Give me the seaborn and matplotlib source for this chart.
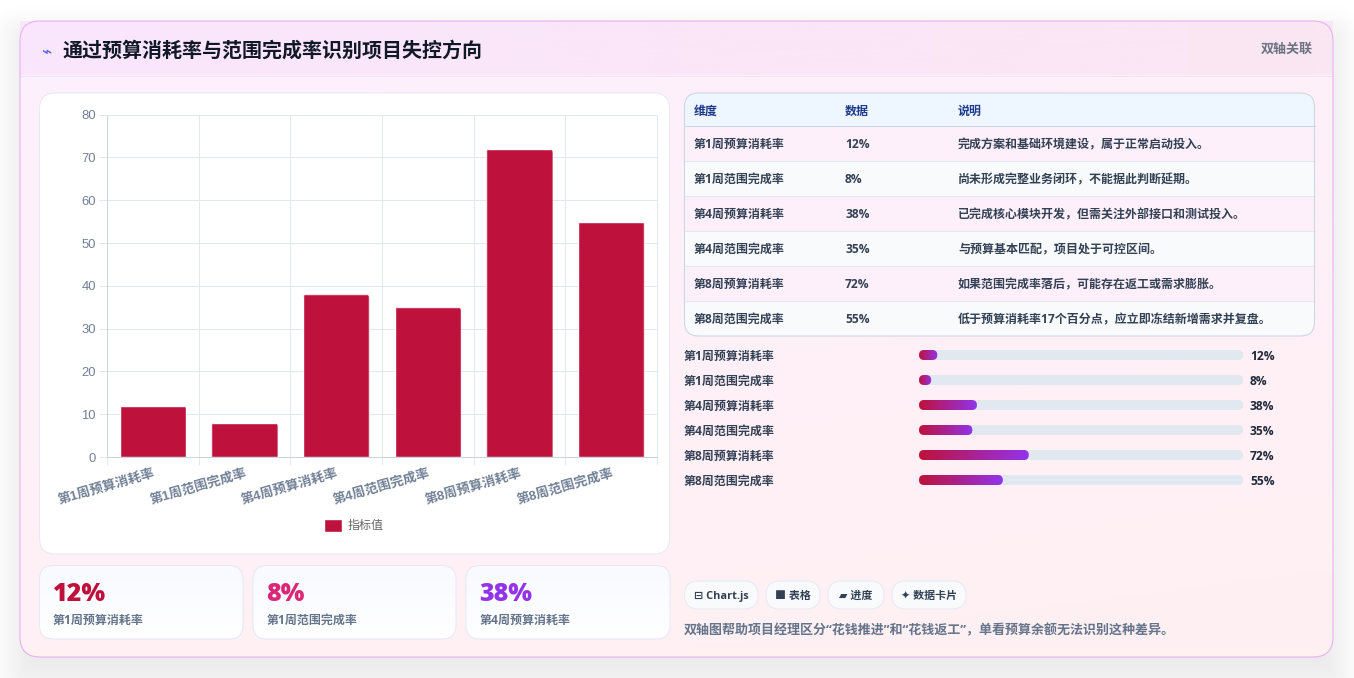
import numpy as np
import pandas as pd
import matplotlib
matplotlib.use("Agg")
import matplotlib.pyplot as plt
import seaborn as sns
from matplotlib.patches import FancyBboxPatch, Rectangle
from matplotlib.transforms import IdentityTransform
from matplotlib.colors import LinearSegmentedColormap, to_rgb

# ---------- data ----------
TITLE = "通过预算消耗率与范围完成率识别项目失控方向"
BADGE = "双轴关联"
LABELS = ["第1周预算消耗率", "第1周范围完成率", "第4周预算消耗率",
          "第4周范围完成率", "第8周预算消耗率", "第8周范围完成率"]
VALUES = [12, 8, 38, 35, 72, 55]
SERIES_NAME = "指标值"
TABLE_HEAD = ["维度", "数据", "说明"]
NOTES = ["完成方案和基础环境建设，属于正常启动投入。",
         "尚未形成完整业务闭环，不能据此判断延期。",
         "已完成核心模块开发，但需关注外部接口和测试投入。",
         "与预算基本匹配，项目处于可控区间。",
         "如果范围完成率落后，可能存在返工或需求膨胀。",
         "低于预算消耗率17个百分点，应立即冻结新增需求并复盘。"]
PILLS = ["⊟ Chart.js", "■ 表格", "▰ 进度", "✦ 数据卡片"]
FOOT = "双轴图帮助项目经理区分“花钱推进”和“花钱返工”，单看预算余额无法识别这种差异。"
CARD_COLORS = ["#be123c", "#db2777", "#9333ea"]

W, H = 1354, 678
CJK = ["Open Sans", "Noto Sans CJK SC", "DejaVu Sans"]
LAT = ["Liberation Sans", "Noto Sans CJK SC"]
sns.set_theme(style="white")
plt.rcParams["font.family"] = CJK
pt = lambda px: px * 0.72

fig = plt.figure(figsize=(W / 100, H / 100), dpi=100, facecolor="white")
bg = fig.add_axes([0, 0, 1, 1], zorder=0)
bg.set_xlim(0, W); bg.set_ylim(H, 0); bg.axis("off")


def px_axes(x0, y0, x1, y1, z=2):
    a = fig.add_axes([x0 / W, 1 - y1 / H, (x1 - x0) / W, (y1 - y0) / H], zorder=z)
    a.patch.set_alpha(0)
    return a


def rbox(x0, y0, x1, y1, r, **kw):
    p = FancyBboxPatch((x0 + r, y0 + r), x1 - x0 - 2 * r, y1 - y0 - 2 * r,
                       boxstyle=f"round,pad={r},rounding_size={r}", **kw)
    bg.add_patch(p)
    return p


def grad(x0, y0, x1, y1, c00, c10, c01, c11, clip=None, z=1):
    g = np.zeros((40, 40, 3))
    u, v = np.meshgrid(np.linspace(0, 1, 40), np.linspace(0, 1, 40))
    for k in range(3):
        g[..., k] = ((1 - u) * (1 - v) * to_rgb(c00)[k] + u * (1 - v) * to_rgb(c10)[k]
                     + (1 - u) * v * to_rgb(c01)[k] + u * v * to_rgb(c11)[k])
    im = bg.imshow(g, extent=(x0, x1, y1, y0), aspect="auto", zorder=z, interpolation="bilinear")
    if clip is not None:
        im.set_clip_path(clip)
    bg.set_xlim(0, W); bg.set_ylim(H, 0)
    return im


def T(x, y, s, size, color, weight="normal", ha="left", family=CJK, z=6):
    # baseline placement keeps digits and CJK rows on one common line
    return bg.text(x, y + 0.37 * size, s, fontsize=pt(size), color=color, fontweight=weight,
                   ha=ha, va="baseline", family=family, zorder=z)


# ---------- page shadow ----------
yy, xx = np.mgrid[0:H, 0:W]
cx, cy, hw, hh = (20 + 1333) / 2, (21 + 657) / 2 + 16, (1333 - 20) / 2, (657 - 21) / 2
dx = np.abs(xx - cx) - hw
dy = np.abs(yy - cy) - hh
sd = np.hypot(np.maximum(dx, 0), np.maximum(dy, 0)) + np.minimum(np.maximum(dx, dy), 0)
a = np.clip(1 - (sd + 22) / 62, 0, 1)
a = a * a * (3 - 2 * a) * 0.085
rgba = np.zeros((H, W, 4)); rgba[..., 3] = a
bg.imshow(rgba, extent=(0, W, H, 0), aspect="auto", zorder=0.2)
bg.set_xlim(0, W); bg.set_ylim(H, 0)

# ---------- main card ----------
clip = rbox(20, 21, 1333, 657, 20, fc="none", ec="none", zorder=0.5)
grad(20, 21, 1333, 657, "#fdf1fe", "#fef0fa", "#fff0f4", "#fff0f2", clip=clip, z=0.6)
grad(20, 21, 1333, 75, "#fae6fd", "#fbe6f3", "#fae6fd", "#fbe6f3", z=0.7)
bg.plot([20, 1333], [75.5, 75.5], color="#ece4f6", lw=0.72, zorder=0.8)
rbox(20, 21, 1333, 657, 20, fc="none", ec="#ecb0f2", lw=0.8, zorder=0.9)
T(41, 50, "⌁", 17, "#4f5be5", family=["DejaVu Sans"])
T(62, 49, TITLE, 20, "#111827", "bold")
T(1313, 48, BADGE, 13, "#6b7280", "bold", ha="right")

# ---------- chart panel ----------
rbox(39.5, 93, 669.5, 554, 16, fc="white", ec="#e8e9f4", lw=0.72, zorder=1)
df = pd.DataFrame({"label": LABELS, "value": VALUES})
ax = px_axes(107, 114.7, 657, 457)
sns.barplot(data=df, x="label", y="value", color="#be123c", saturation=1, width=0.725,
            label=SERIES_NAME, ax=ax, zorder=3)
ax.set_ylim(0, 80); ax.set_xlim(-0.5, 5.5)
ax.set_xlabel(""); ax.set_ylabel("")
for s in ax.spines.values():
    s.set_color("#e2e8f0"); s.set_linewidth(0.72)
ax.spines["bottom"].set_color("#cbd5e1"); ax.spines["left"].set_color("#cbd5e1")
ax.set_yticks(range(0, 81, 10))
ax.set_xticks(np.arange(-0.5, 6), minor=True)
ax.grid(True, axis="y", color="#e2e8f0", lw=0.72, zorder=0)
ax.grid(True, axis="x", which="minor", color="#e2e8f0", lw=0.72, zorder=0)
ax.grid(False, axis="x", which="major")
ax.set_axisbelow(True)
ax.tick_params(axis="y", length=pt(8), width=0.72, color="#e2e8f0", labelcolor="#718096",
               labelsize=pt(13), pad=pt(3), left=True)
ax.tick_params(axis="x", which="minor", length=pt(8), width=0.72, color="#e2e8f0", bottom=True)
ax.tick_params(axis="x", which="major", length=0, pad=pt(10), labelcolor="#718096", labelsize=pt(13.2))
for t in ax.get_yticklabels():
    t.set_family(LAT)
ax.set_xticks(range(6)); ax.set_xticklabels(LABELS)
for t in ax.get_xticklabels():
    t.set_family(LAT); t.set_fontweight("bold"); t.set_rotation(16)
    t.set_ha("right"); t.set_rotation_mode("anchor")
fig.canvas.draw()
for b in ax.patches:
    e = b.get_window_extent()
    r = 4
    c = FancyBboxPatch((e.x0 + r, e.y0 - 20), e.width - 2 * r, e.height + 20 - r,
                       boxstyle=f"round,pad={r},rounding_size={r}", transform=IdentityTransform())
    b.set_clip_path(c)
leg = ax.legend(loc="center", bbox_to_anchor=(353.5, 525.5), bbox_transform=bg.transData,
                frameon=False, handlelength=18 / 12.0, handleheight=1.35, handletextpad=0.5,
                prop={"family": CJK, "size": pt(12)}, labelcolor="#666666", borderpad=0)

# ---------- table ----------
tx0, ty0, tx1, ty1 = 684.5, 93, 1314.5, 336
tclip = rbox(tx0, ty0, tx1, ty1, 14, fc="none", ec="none", zorder=1)
bg.add_patch(Rectangle((tx0, ty0), 630, 33, fc="#eef6ff", ec="none", zorder=1.1, clip_path=tclip))
RH = 35
for i in range(6):
    y = 126 + i * RH
    bg.add_patch(Rectangle((tx0, y), 630, RH, fc="#fef0fb" if i % 2 == 0 else "#f8fafc", ec="none",
                           zorder=1.1, clip_path=tclip))
    bg.plot([tx0, tx1], [y, y], color="#cbd5e1" if i == 0 else "#e2e8f0", lw=0.72, zorder=1.2)
    T(694, y + 17.5, LABELS[i], 12, "#334155", "bold")
    T(845, y + 17.5, f"{VALUES[i]}%", 12, "#334155", "bold")
    T(958, y + 17.5, NOTES[i], 12, "#334155", "bold")
rbox(tx0, ty0, tx1, ty1, 14, fc="none", ec="#cbd5e1", lw=0.72, zorder=1.3)
for x, s in zip((694, 845, 958), TABLE_HEAD):
    T(x, 110, s, 12, "#1e3a8a", "bold")

# ---------- progress ----------
P_MAX = 212.5   # scale: the fills do not reach the track end
pax = px_axes(919, 342.5, 1243, 492.5)
sns.barplot(data=df, y="label", x="value", orient="h", color="#9333ea", saturation=1, width=0.4, ax=pax)
pax.set_xlim(0, P_MAX); pax.set_ylim(5.5, -0.5); pax.axis("off")
pax.set_autoscale_on(False)
cmap = LinearSegmentedColormap.from_list("p", ["#be123c", "#9333ea"])
fig.canvas.draw()
extents = [b.get_window_extent() for b in pax.patches]
for i, (b, e) in enumerate(zip(pax.patches, extents)):
    r = 5
    sy = H - (e.y0 + e.y1) / 2
    rbox(919, sy - 5, 1243, sy + 5, r, fc="#e2e8f0", ec="none", zorder=1.5)
    b.set_visible(False)
    cl = FancyBboxPatch((e.x0 + r, e.y0 + r), e.width - 2 * r, e.height - 2 * r,
                        boxstyle=f"round,pad={r},rounding_size={r}", transform=IdentityTransform())
    im = pax.imshow(np.linspace(0, 1, 64)[None, :], cmap=cmap, aspect="auto",
                    extent=(0, VALUES[i], i + 0.2, i - 0.2), zorder=3)
    im.set_clip_path(cl)
    pax.set_xlim(0, P_MAX); pax.set_ylim(5.5, -0.5)
    T(684, sy + 0.5, LABELS[i], 12, "#334155", "bold")
    T(1250, sy + 0.5, f"{VALUES[i]}%", 12, "#1e293b", "bold")

# ---------- stat cards ----------
for (x0, x1), i in zip(((39.5, 243), (253, 456), (466, 670)), range(3)):
    cc = rbox(x0, 565.5, x1, 639, 14, fc="none", ec="none", zorder=1)
    grad(x0, 565.5, x1, 639, "#f8faff", "#f8faff", "#ffffff", "#ffffff", clip=cc, z=1.1)
    rbox(x0, 565.5, x1, 639, 14, fc="none", ec="#e6e8f8", lw=0.72, zorder=1.2)
    T(x0 + 13.5, 592, f"{VALUES[i]}%", 25, CARD_COLORS[i], "heavy")
    T(x0 + 13.5, 619, LABELS[i], 12, "#64748b", "bold")

# ---------- pills and footer ----------
for (x0, x1), s in zip(((684.5, 758), (766, 820), (828, 884), (892, 966)), PILLS):
    rbox(x0, 581, x1, 609, 14, fc="#f8fafc", ec="#e8e9f4", lw=0.72, zorder=1)
    T((x0 + x1) / 2, 595, s, 11, "#334155", "bold", ha="center")
T(684, 629, FOOT, 13, "#64748b", "bold")

fig.savefig("out.png", dpi=100)
